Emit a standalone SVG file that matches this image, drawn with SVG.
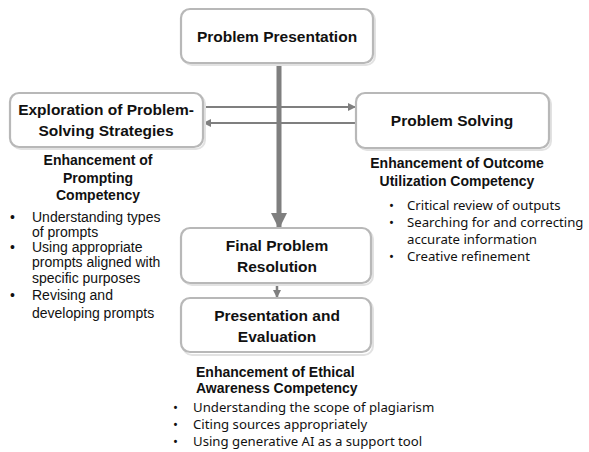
<svg xmlns="http://www.w3.org/2000/svg" width="589" height="452" viewBox="0 0 589 452">
<style>
.box{fill:#ffffff;stroke:#b8b8b8;stroke-width:2.2}
.shadow{fill:none;stroke:#e2e2e2;stroke-width:2}
.title{font-family:"Liberation Sans",Arial,sans-serif;font-weight:bold;font-size:15.5px;fill:#111;text-anchor:middle}
.head{font-family:"Liberation Sans",Arial,sans-serif;font-weight:bold;font-size:14px;fill:#111}
.b1{font-family:"Liberation Sans",Arial,sans-serif;font-size:14px;fill:#111}
.b2{font-family:"Noto Sans","Open Sans",sans-serif;font-size:13.2px;fill:#111}
.conn{stroke:#7f7f7f;fill:none}
</style>
<defs>
<marker id="ah" markerWidth="8" markerHeight="8" refX="7" refY="4" orient="auto" markerUnits="userSpaceOnUse">
<path d="M0,0 L8,4 L0,8 Z" fill="#7f7f7f"/>
</marker>
<marker id="ahBig" markerWidth="16" markerHeight="16" refX="15" refY="8" orient="auto" markerUnits="userSpaceOnUse">
<path d="M0,0 L16,8 L0,16 Z" fill="#7f7f7f"/>
</marker>
</defs>

<g id="connectors">
<line class="conn" x1="203" y1="107" x2="355" y2="107" stroke-width="2" marker-end="url(#ah)"/>
<line class="conn" x1="357" y1="123" x2="204" y2="123" stroke-width="2" marker-end="url(#ah)"/>
<line class="conn" x1="279" y1="64" x2="279" y2="228" stroke-width="5" marker-end="url(#ahBig)"/>
<line class="conn" x1="277" y1="285" x2="277" y2="297" stroke-width="2.5" marker-end="url(#ah)"/>
</g>

<g id="problem-presentation">
<rect class="shadow" x="183" y="11" width="192" height="54" rx="9"/>
<rect class="box" x="181" y="9" width="192" height="54" rx="9"/>
<text class="title" x="277" y="42">Problem Presentation</text>
</g>

<g id="exploration">
<rect class="shadow" x="12" y="95" width="193" height="54" rx="9"/>
<rect class="box" x="10" y="93" width="193" height="54" rx="9"/>
<text class="title" x="106" y="115">Exploration of Problem-</text>
<text class="title" x="106" y="136">Solving Strategies</text>
</g>

<g id="problem-solving">
<rect class="shadow" x="358" y="95" width="193" height="55" rx="9"/>
<rect class="box" x="356" y="93" width="193" height="55" rx="9"/>
<text class="title" x="452" y="126">Problem Solving</text>
</g>

<g id="final-resolution">
<rect class="shadow" x="183" y="230" width="190" height="55" rx="9"/>
<rect class="box" x="181" y="228" width="190" height="55" rx="9"/>
<text class="title" x="277" y="251">Final Problem</text>
<text class="title" x="277" y="272">Resolution</text>
</g>

<g id="presentation-evaluation">
<rect class="shadow" x="183" y="300" width="190" height="55" rx="9"/>
<rect class="box" x="181" y="298" width="190" height="54" rx="9"/>
<text class="title" x="277" y="321">Presentation and</text>
<text class="title" x="277" y="342">Evaluation</text>
</g>

<g id="prompting-competency">
<text class="head" x="98" y="165" text-anchor="middle">Enhancement of</text>
<text class="head" x="98" y="183" text-anchor="middle">Prompting</text>
<text class="head" x="98" y="200" text-anchor="middle">Competency</text>
<text class="b1" x="10" y="222">•</text><text class="b1" x="32" y="222">Understanding types</text>
<text class="b1" x="32" y="237">of prompts</text>
<text class="b1" x="10" y="252">•</text><text class="b1" x="32" y="252">Using appropriate</text>
<text class="b1" x="32" y="267">prompts aligned with</text>
<text class="b1" x="32" y="283">specific purposes</text>
<text class="b1" x="10" y="300">•</text><text class="b1" x="32" y="300">Revising and</text>
<text class="b1" x="32" y="318">developing prompts</text>
</g>

<g id="outcome-competency">
<text class="head" x="457" y="168" text-anchor="middle">Enhancement of Outcome</text>
<text class="head" x="457" y="186" text-anchor="middle">Utilization Competency</text>
<text class="b2" x="389" y="210">•</text><text class="b2" x="407" y="210">Critical review of outputs</text>
<text class="b2" x="389" y="227">•</text><text class="b2" x="407" y="227">Searching for and correcting</text>
<text class="b2" x="407" y="244">accurate information</text>
<text class="b2" x="389" y="261">•</text><text class="b2" x="407" y="261">Creative refinement</text>
</g>

<g id="ethical-competency">
<text class="head" x="196" y="377">Enhancement of Ethical</text>
<text class="head" x="196" y="393">Awareness Competency</text>
<text class="b2" x="173" y="412">•</text><text class="b2" x="193" y="412">Understanding the scope of plagiarism</text>
<text class="b2" x="173" y="429">•</text><text class="b2" x="193" y="429">Citing sources appropriately</text>
<text class="b2" x="173" y="446">•</text><text class="b2" x="193" y="446">Using generative AI as a support tool</text>
</g>
</svg>
